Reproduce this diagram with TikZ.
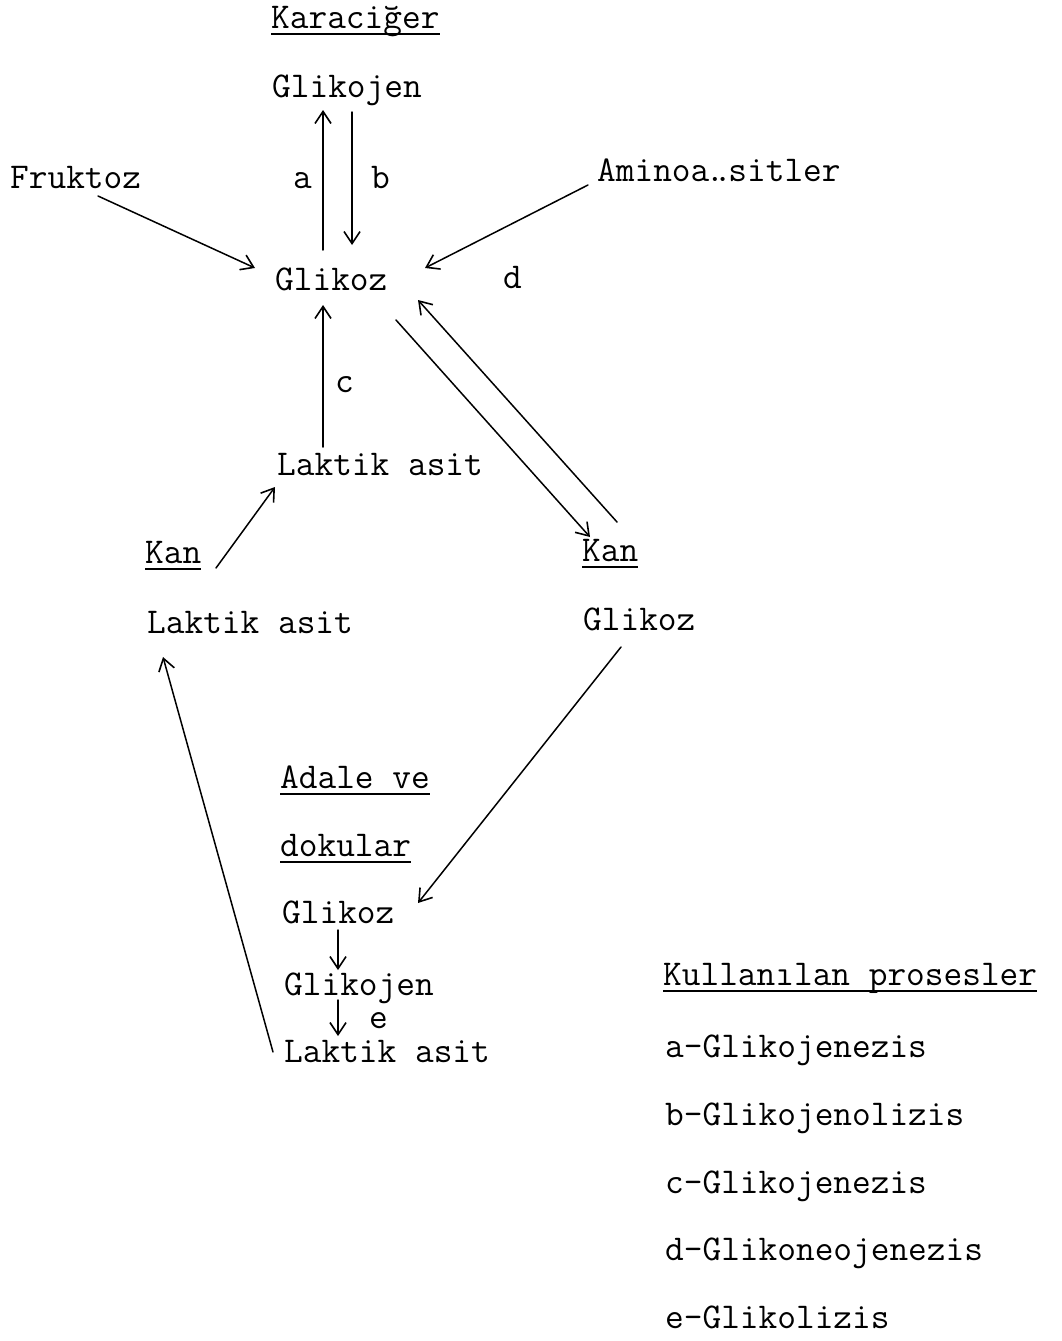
\documentclass[tikz,border=0pt]{standalone}
\usepackage{fontspec}
\setmonofont{Latin Modern Mono}
\usetikzlibrary{arrows.meta,calc}
\begin{document}
\begin{tikzpicture}[x=1pt,y=-1pt,
  lbl/.style={inner sep=0pt, anchor=base west, font=\ttfamily\fontsize{36.3}{40}\selectfont},
  arr/.style={line width=1.5pt, line cap=round, -{Straight Barb[length=12pt,width=16pt,line width=1.6pt]}},
  ul/.style={line width=1.8pt}]
\useasboundingbox (0,0) rectangle (1062,1341);
% Liver
\node[lbl] (kar) at (271,28) {Karaciğer};
\node[lbl] (gj1) at (272,97) {Glikojen};
\node[lbl] (fru) at (10,188) {Fruktoz};
\node[lbl] (la) at (293,188) {a};
\node[lbl] (lb) at (371,188) {b};
\node[lbl] (ami) at (597,181) {Aminoa\makebox[0.525em][c]{.\kern-0.3em.}sitler};
\node[lbl] (gl1) at (275,290) {Glikoz};
\node[lbl] (ld) at (503,288) {d};
\node[lbl] (lc) at (335,392) {c};
\node[lbl] (lak1) at (277,475) {Laktik asit};
% Blood
\node[lbl] (kan1) at (145,563) {Kan};
\node[lbl] (kan2) at (582,561) {Kan};
\node[lbl] (lak2) at (147,633) {Laktik asit};
\node[lbl] (gl2) at (583,630) {Glikoz};
% Muscle
\node[lbl] (ada) at (280,788) {Adale ve};
\node[lbl] (dok) at (280,856) {dokular};
\node[lbl] (gl3) at (282,923) {Glikoz};
\node[lbl] (gj3) at (284,995) {Glikojen};
\node[lbl] (le) at (369,1028) {e};
\node[lbl] (lak3) at (284,1062) {Laktik asit};
% Legend
\node[lbl] (kp) at (663,985) {Kullanılan prosesler};
\node[lbl] (p1) at (665,1057) {a-Glikojenezis};
\node[lbl] (p2) at (665,1125) {b-Glikojenolizis};
\node[lbl] (p3) at (665,1193) {c-Glikojenezis};
\node[lbl] (p4) at (665,1260) {d-Glikoneojenezis};
\node[lbl] (p5) at (665,1328) {e-Glikolizis};
% Underlines
\foreach \n/\d in {kar/6,kan1/6,kan2/6,ada/6,dok/6,kp/6}{
  \draw[ul] ($(\n.base west)+(0,\d)$) -- ($(\n.base east)+(0,\d)$);
}
% Arrows
\draw[arr] ($(gl1.base west)+(48,-40)$) -- ($(gj1.base west)+(51,13)$);
\draw[arr] ($(gj1.base west)+(80,15)$) -- ($(gl1.base west)+(77,-45)$);
\draw[arr] ($(fru.base west)+(88,8)$) -- ($(gl1.base west)+(-20,-22)$);
\draw[arr] ($(ami.base west)+(-9,4)$) -- ($(gl1.base west)+(150,-22)$);
\draw[arr] ($(lak1.base west)+(46,-28)$) -- ($(gl1.base west)+(48,15)$);
\draw[arr] ($(gl1.base west)+(121,30)$) -- ($(kan2.base west)+(8,-24)$);
\draw[arr] ($(kan2.base west)+(35,-39)$) -- ($(gl1.base west)+(143,10)$);
\draw[arr] ($(kan1.base west)+(71,5)$) -- ($(lak1.base west)+(-2,12)$);
\draw[arr] ($(gl2.base west)+(38,17)$) -- ($(gl3.base west)+(136,-20)$);
\draw[arr] ($(gl3.base west)+(56,7)$) -- ($(gj3.base west)+(54,-25)$);
\draw[arr] ($(gj3.base west)+(54,5)$) -- ($(lak3.base west)+(54,-26)$);
\draw[arr] ($(lak3.base west)+(-11,-10)$) -- ($(lak2.base west)+(16,24)$);
\end{tikzpicture}
\end{document}
